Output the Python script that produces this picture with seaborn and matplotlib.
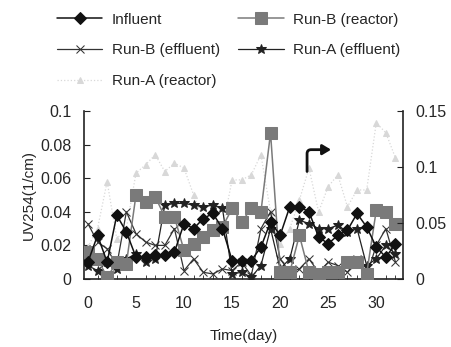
import numpy as np
import pandas as pd
import seaborn as sns
import matplotlib
matplotlib.use("Agg")
import matplotlib.pyplot as plt
from matplotlib.ticker import FuncFormatter

days = list(range(33))
influent = [0.010,0.026,0.010,0.038,0.028,0.013,0.013,0.014,0.014,0.016,0.033,0.030,0.036,0.039,0.030,0.011,0.011,0.011,0.019,0.034,0.026,0.043,0.043,0.040,0.025,0.021,0.026,0.029,0.039,0.031,0.019,0.013,0.021]
runB_reactor = [0.016,0.012,0.001,0.010,0.009,0.050,0.046,0.049,0.037,0.037,0.017,0.021,0.025,0.029,0.031,0.042,0.034,0.042,0.040,0.087,0.004,0.004,0.026,0.004,0.003,0.004,0.004,0.010,0.010,0.003,0.041,0.040,0.033]
runB_effluent = [0.033,0.022,0.018,0.008,0.040,0.027,0.022,0.020,0.020,0.030,0.005,0.012,0.004,0.003,0.006,0.005,0.010,0.002,0.030,0.040,0.012,0.004,0.006,0.012,0.004,0.010,0.008,0.004,0.012,0.002,0.020,0.030,0.010]
runA_effluent = [0.008,0.005,0.010,0.006,0.012,0.015,0.010,0.012,0.044,0.045,0.045,0.044,0.043,0.044,0.042,0.003,0.004,0.001,0.008,0.030,0.006,0.012,0.035,0.033,0.030,0.030,0.032,0.028,0.030,0.008,0.012,0.020,0.015]
runA_reactor = [0.019,0.030,0.058,0.024,0.030,0.063,0.068,0.074,0.064,0.069,0.066,0.050,0.035,0.030,0.030,0.059,0.059,0.062,0.074,0.040,0.021,0.030,0.047,0.066,0.040,0.055,0.062,0.043,0.053,0.053,0.093,0.087,0.072]

left_ticks = [0, 0.02, 0.04, 0.06, 0.08, 0.1]
right_ticks = [0, 0.05, 0.1, 0.15]
x_ticks = [0, 5, 10, 15, 20, 25, 30]

sns.set_style("white")
plt.rcParams['font.family'] = ['Liberation Sans', 'DejaVu Sans']

fig = plt.figure(figsize=(4.52, 3.47), dpi=100)
ax = fig.add_axes([0.186, 0.196, 0.706, 0.484])

series = [
    ("Influent", influent, dict(color="#111111", marker="D", markersize=6, lw=1.1, zorder=5)),
    ("Run-B (reactor)", runB_reactor, dict(color="#7a7a7a", marker="s", markersize=8, lw=1.1, zorder=4)),
    ("Run-B (effluent)", runB_effluent, dict(color="#333333", marker="x", markersize=6, lw=0.9, zorder=3)),
    ("Run-A (effluent)", runA_effluent, dict(color="#222222", marker="*", markersize=7, lw=0.9, zorder=3)),
    ("Run-A (reactor)", runA_reactor, dict(color="#d8d8d8", marker="^", markersize=5, lw=0.9, linestyle=":", zorder=2)),
]
for name, vals, kw in series:
    df = pd.DataFrame({"day": days, "v": vals})
    sns.lineplot(data=df, x="day", y="v", ax=ax, label=name, markeredgecolor=kw["color"], **kw)

h, l = ax.get_legend_handles_labels()
ax.get_legend().remove()
hd = dict(zip(l, h))
order = ["Influent", "Run-B (effluent)", "Run-A (reactor)", "Run-B (reactor)", "Run-A (effluent)"]
fig.legend([hd[o] for o in order], order, ncol=2, loc="upper left", bbox_to_anchor=(0.105, 0.99),
           frameon=False, fontsize=11, handlelength=3.0, columnspacing=1.2, handletextpad=0.6,
           labelspacing=1.1, borderaxespad=0.2)

ax.set_xlim(-0.4, 32.8)
ax.set_ylim(0, 0.1)
ax.set_xticks(x_ticks)
ax.set_yticks(left_ticks)
ax.set_xticks(days, minor=True)
fmt = FuncFormatter(lambda v, p: "%g" % round(v, 3))
ax.yaxis.set_major_formatter(fmt)
ax.set_xlabel("Time(day)", fontsize=11, labelpad=13)
ax.set_ylabel("UV254(1/cm)", fontsize=11, labelpad=3)
ax.tick_params(axis="both", which="major", direction="in", length=4, labelsize=11.5, pad=9, color="#222")
ax.tick_params(axis="x", which="major", pad=12)
ax.tick_params(axis="x", which="minor", direction="in", length=3, color="#222", bottom=True)
for s in ["left", "bottom"]:
    ax.spines[s].set_color("#222")
    ax.spines[s].set_linewidth(1.2)
ax.spines["top"].set_visible(False)
ax.spines["right"].set_visible(False)

ax2 = ax.twinx()
ax2.set_ylim(0, 0.15)
ax2.set_yticks(right_ticks)
ax2.yaxis.set_major_formatter(fmt)
ax2.tick_params(axis="y", direction="in", length=4, labelsize=11.5, pad=9, color="#222")
ax2.spines["right"].set_color("#222")
ax2.spines["right"].set_linewidth(1.2)
for s in ["top", "left", "bottom"]:
    ax2.spines[s].set_visible(False)

ax.annotate("", xy=(25.3, 0.077), xytext=(22.8, 0.064),
            arrowprops=dict(arrowstyle="-|>,head_length=0.5,head_width=0.3", color="#111",
                            lw=2, connectionstyle="angle,angleA=90,angleB=0,rad=4",
                            shrinkA=0, shrinkB=0))

fig.savefig("out.png", dpi=100)
